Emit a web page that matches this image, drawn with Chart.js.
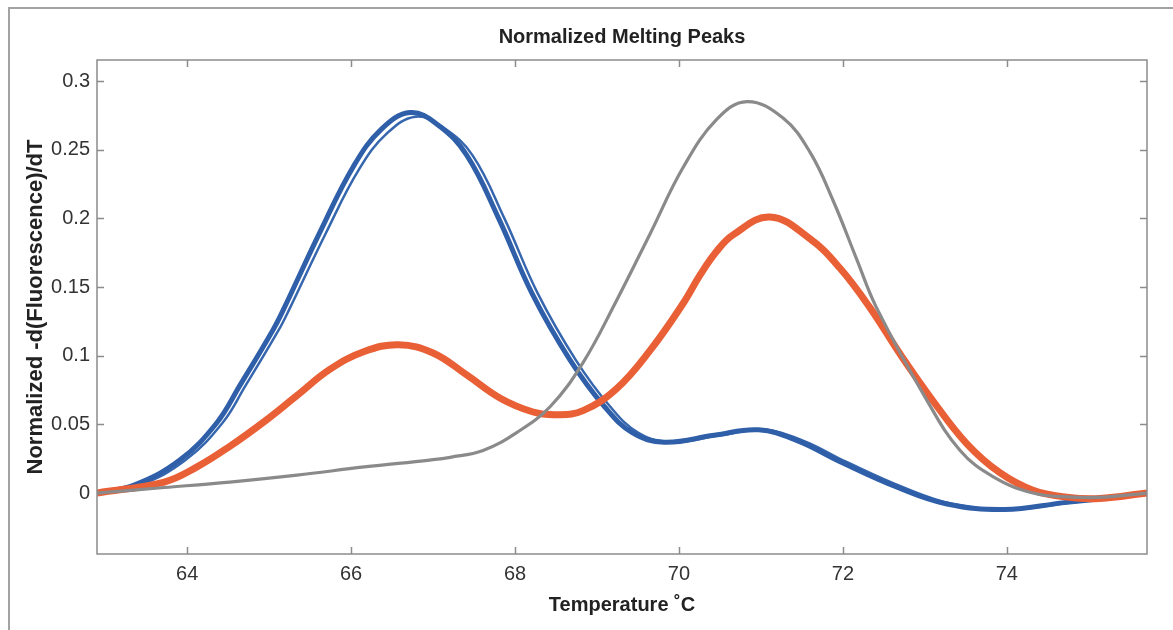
<!DOCTYPE html>
<html>
<head>
<meta charset="utf-8">
<title>Normalized Melting Peaks</title>
<script src="https://cdn.jsdelivr.net/npm/chart.js@4/dist/chart.umd.min.js"></script>
<style>
  html, body { margin: 0; padding: 0; background: #fff; overflow: hidden; }
  #wrap { position: relative; width: 1173px; height: 630px; }
  /* outer figure frame, partly cut off like in the screenshot */
  #frame { position: absolute; left: 8px; top: 7px; right: -10px; bottom: -10px; border: 2px solid #a3a3a3; }
  #chart { position: absolute; left: 0; top: 0; }
</style>
</head>
<body>
<div id="wrap">
  <div id="frame"></div>
  <canvas id="chart" width="1173" height="630"></canvas>
</div>
<script>
// ---------- Data ----------
const titleText = 'Normalized Melting Peaks';
const xTitle = 'Temperature \u02DAC';
const yTitle = 'Normalized -d(Fluorescence)/dT';

const xTicks = [64, 66, 68, 70, 72, 74];
const yTicks = [0, 0.05, 0.1, 0.15, 0.2, 0.25, 0.3];

// blue samples: two replicate traces (thick + thin, with a light gap between)
const blueTempsA = [62.90, 63.36, 63.91, 64.36, 64.64, 65.04, 65.17, 65.62, 66.03, 66.37, 66.72, 67.06, 67.41, 67.80, 68.21,
                    68.67, 69.09, 69.43, 69.82, 70.43, 70.97, 71.45, 71.96, 72.67, 73.27, 73.97, 74.70, 75.31, 75.71];
const blueValsA  = [0.000, 0.006, 0.024, 0.051, 0.078, 0.118, 0.133, 0.190, 0.238, 0.265, 0.277, 0.268, 0.246, 0.200, 0.145,
                    0.097, 0.063, 0.044, 0.037, 0.042, 0.046, 0.038, 0.023, 0.004, -0.008, -0.012, -0.007, -0.003, 0.000];
const blueTempsB = [62.90, 63.43, 63.98, 64.43, 64.71, 65.11, 65.24, 65.69, 66.10, 66.44, 66.79, 67.13, 67.48, 67.87, 68.28,
                    68.74, 69.16, 69.50, 69.89, 70.50, 71.04, 71.52, 72.03, 72.74, 73.34, 74.04, 74.77, 75.38, 75.71];
const blueValsB  = [0.000, 0.006, 0.024, 0.051, 0.078, 0.118, 0.133, 0.189, 0.236, 0.262, 0.274, 0.266, 0.246, 0.200, 0.145,
                    0.097, 0.063, 0.044, 0.037, 0.042, 0.046, 0.038, 0.023, 0.004, -0.008, -0.012, -0.007, -0.003, 0.000];

// orange samples
const orangeTemps = [62.90, 63.72, 64.12, 64.52, 64.94, 65.34, 65.74, 66.16, 66.58, 67.00, 67.41, 67.82, 68.22, 68.51,
                     68.83, 69.24, 69.65, 70.05, 70.26, 70.46, 70.66, 71.11, 71.60, 71.96, 72.33, 72.70, 73.10, 73.51,
                     73.91, 74.32, 74.73, 75.13, 75.71];
const orangeVals  = [0.000, 0.008, 0.019, 0.034, 0.052, 0.071, 0.090, 0.103, 0.108, 0.102, 0.086, 0.069, 0.059, 0.057,
                     0.060, 0.076, 0.104, 0.138, 0.159, 0.176, 0.188, 0.201, 0.185, 0.164, 0.135, 0.101, 0.067, 0.036,
                     0.015, 0.002, -0.003, -0.004, 0.000];

// grey sample
const greyTemps = [62.90, 63.72, 64.52, 65.34, 66.16, 66.96, 67.21, 67.61, 68.02, 68.43, 68.83, 69.22, 69.65, 70.05,
                   70.46, 70.83, 71.27, 71.60, 71.88, 72.17, 72.41, 73.02, 73.43, 73.83, 74.32, 74.80, 75.20, 75.71];
const greyVals  = [0.000, 0.004, 0.008, 0.013, 0.019, 0.024, 0.026, 0.031, 0.044, 0.063, 0.095, 0.138, 0.189, 0.237,
                   0.272, 0.285, 0.273, 0.248, 0.213, 0.170, 0.135, 0.068, 0.031, 0.012, 0.000, -0.003, -0.003, 0.000];

// ---------- Helpers ----------
const FONT = '"Liberation Sans", Arial, Helvetica, sans-serif';

function toPoints(temps, vals) {
  return temps.map((t, i) => ({ x: t, y: vals[i] }));
}

function lineSet(label, temps, vals, color, width) {
  return {
    label: label,
    data: toPoints(temps, vals),
    borderColor: color,
    borderWidth: width,
    pointRadius: 0,
    tension: 0.4,
    fill: false
  };
}

// frame box, inward ticks on all sides, and the title
const framePlugin = {
  id: 'frame',
  afterDraw(chart) {
    const { ctx, chartArea: a, scales } = chart;
    const x = scales.x, y = scales.y;
    ctx.save();
    ctx.strokeStyle = '#8c8c8c';
    ctx.lineWidth = 1.5;
    ctx.strokeRect(a.left, a.top, a.right - a.left, a.bottom - a.top);

    ctx.beginPath();
    xTicks.forEach(v => {
      const px = Math.round(x.getPixelForValue(v)) + 0.5;
      ctx.moveTo(px, a.bottom); ctx.lineTo(px, a.bottom - 7);
      ctx.moveTo(px, a.top); ctx.lineTo(px, a.top + 7);
    });
    yTicks.forEach(v => {
      const py = Math.round(y.getPixelForValue(v)) + 0.5;
      ctx.moveTo(a.left, py); ctx.lineTo(a.left + 7, py);
      ctx.moveTo(a.right, py); ctx.lineTo(a.right - 7, py);
    });
    ctx.stroke();

    ctx.font = 'bold 20px ' + FONT;
    ctx.fillStyle = '#222';
    ctx.textAlign = 'center';
    ctx.textBaseline = 'middle';
    ctx.fillText(titleText, (a.left + a.right) / 2, 37);
    ctx.restore();
  }
};

// ---------- Chart ----------
const ctx = document.getElementById('chart').getContext('2d');

new Chart(ctx, {
  type: 'line',
  data: {
    datasets: [
      lineSet('Grey', greyTemps, greyVals, '#8a8a8a', 3.2),
      lineSet('Orange', orangeTemps, orangeVals, '#e95f36', 7),
      lineSet('Blue A', blueTempsA, blueValsA, '#2f5fa8', 5),
      lineSet('Blue B', blueTempsB, blueValsB, '#3566ae', 2.5)
    ]
  },
  options: {
    responsive: false,
    animation: false,
    layout: { padding: { left: 0, top: 60, right: 26, bottom: 0 } },
    plugins: {
      legend: { display: false },
      tooltip: { enabled: false }
    },
    scales: {
      x: {
        type: 'linear',
        min: 62.9,
        max: 75.71,
        afterBuildTicks: s => { s.ticks = xTicks.map(v => ({ value: v })); },
        afterFit: s => { s.height = 76; },
        grid: { display: false, drawTicks: false },
        border: { display: false },
        ticks: { padding: 8, color: '#333', font: { size: 20, family: FONT }, maxRotation: 0 },
        title: { display: true, text: xTitle, color: '#222', font: { size: 20, weight: 'bold', family: FONT }, padding: { top: 0, bottom: 13 } }
      },
      y: {
        type: 'linear',
        min: -0.0444,
        max: 0.3153,
        afterBuildTicks: s => { s.ticks = yTicks.map(v => ({ value: v })); },
        afterFit: s => { s.width = 97; },
        grid: { display: false, drawTicks: false },
        border: { display: false },
        ticks: {
          padding: 7, color: '#333', font: { size: 20, family: FONT },
          callback: v => String(Number(v.toFixed(2)))
        },
        title: { display: true, text: yTitle, color: '#222', font: { size: 22, weight: 'bold', family: FONT }, padding: { top: 23, bottom: 0 } }
      }
    }
  },
  plugins: [framePlugin]
});
</script>
</body>
</html>
